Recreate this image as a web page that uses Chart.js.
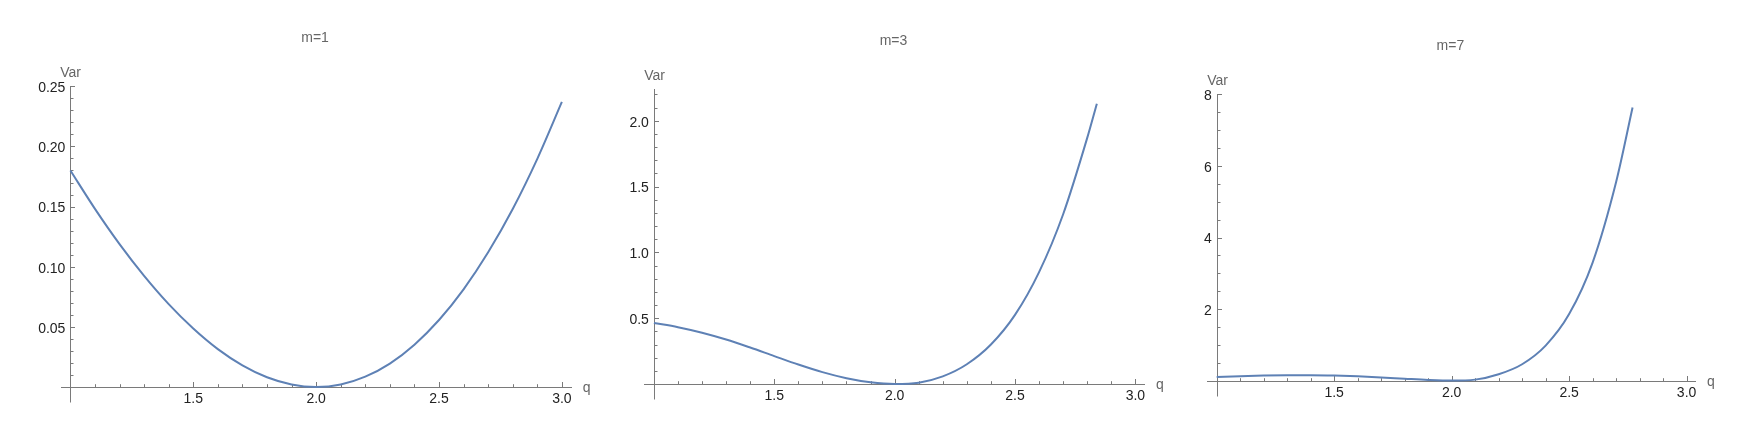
<!DOCTYPE html>
<html>
<head>
<meta charset="utf-8">
<script src="https://cdn.jsdelivr.net/npm/chart.js@4.4.0/dist/chart.umd.min.js"></script>
<style>
body{margin:0;background:#fff;width:1752px;height:435px;position:relative;overflow:hidden}
canvas{position:absolute;top:0}
</style>
</head>
<body>
<canvas id="c1" width="600" height="435" style="left:0px"></canvas>
<canvas id="c2" width="600" height="435" style="left:584px"></canvas>
<canvas id="c3" width="584" height="435" style="left:1168px"></canvas>
<script>
// values
var qM1=[1.0,1.1,1.2,1.3,1.4,1.5,1.6,1.7,1.8,1.9,2.0,2.1,2.2,2.3,2.4,2.5,2.6,2.7,2.8,2.9,3.0];
var varM1=[0.1800,0.1481,0.1188,0.0924,0.0689,0.0486,0.0315,0.0180,0.0081,0.0021,0.0000,0.0021,0.0086,0.0195,0.0352,0.0557,0.0812,0.1120,0.1480,0.1897,0.2370];

var qM3=[1.0,1.1,1.2,1.3,1.4,1.5,1.6,1.7,1.8,1.9,2.0,2.1,2.2,2.3,2.4,2.5,2.6,2.7,2.8,2.84];
var varM3=[0.464,0.432,0.390,0.338,0.277,0.212,0.148,0.090,0.044,0.013,0.000,0.010,0.058,0.150,0.300,0.525,0.850,1.290,1.870,2.130];

var qM7=[1.0,1.1,1.2,1.3,1.4,1.5,1.6,1.7,1.8,1.9,2.0,2.1,2.2,2.3,2.4,2.5,2.6,2.7,2.77];
var varM7=[0.100,0.125,0.142,0.151,0.152,0.143,0.122,0.092,0.056,0.022,0.004,0.030,0.180,0.460,0.980,1.860,3.300,5.550,7.630];

var titles=['m=1','m=3','m=7'];
var xTicks=[1.5,2.0,2.5,3.0];
var yTicksM1=[0.05,0.10,0.15,0.20,0.25];
var yTicksM3=[0.5,1.0,1.5,2.0];
var yTicksM7=[2,4,6,8];

var FONT='"Liberation Sans", Arial, sans-serif';

// mathematica-ish axes: lines through (1,0), inward ticks, labels
var mmaAxes={
  id:'mmaAxes',
  beforeDatasetsDraw:function(chart,args,o){
    var ctx=chart.ctx,xs=chart.scales.x,ys=chart.scales.y,a=chart.chartArea;
    var x1=Math.round(xs.getPixelForValue(1))+0.5;
    var y0=Math.round(ys.getPixelForValue(0))+0.5;
    ctx.save();
    ctx.strokeStyle='#7a7a7a';
    ctx.lineWidth=1;
    ctx.beginPath();
    ctx.moveTo(Math.round(xs.getPixelForValue(0.96)),y0);
    ctx.lineTo(Math.round(a.right),y0);
    ctx.moveTo(x1,Math.round(a.top));
    ctx.lineTo(x1,y0+15);
    for(var i=1;i<=20;i++){
      var px=Math.round(xs.getPixelForValue(1+i/10))+0.5;
      var len=(i%5==0)?5.5:3.3;
      ctx.moveTo(px,y0);
      ctx.lineTo(px,y0-len);
    }
    var n=Math.round(o.yMax/o.minor+1e-6);
    for(var j=1;j<=n;j++){
      var py=Math.round(ys.getPixelForValue(j*o.minor))+0.5;
      var l=(j%o.majorEvery==0)?4.5:3;
      ctx.moveTo(x1,py);
      ctx.lineTo(x1+l,py);
    }
    ctx.stroke();
    ctx.fillStyle='#666';
    ctx.font='14px '+FONT;
    ctx.textAlign='center';
    ctx.textBaseline='middle';
    ctx.fillText(o.title,(a.left+a.right)/2-6,a.top-48);
    ctx.fillText('Var',x1,a.top-13);
    ctx.textAlign='left';
    ctx.fillText('q',a.right+11,y0+1);
    ctx.restore();
  }
};

function makeChart(id,q,vals,yt,p){
  var pts=[];
  for(var i=0;i<q.length;i++) pts.push({x:q[i],y:vals[i]});
  var cv=document.getElementById(id);
  return new Chart(cv.getContext('2d'),{
    type:'scatter',
    data:{datasets:[{
      data:pts,
      showLine:true,
      borderColor:'#5e81b5',
      borderWidth:2,
      pointRadius:0,
      cubicInterpolationMode:'monotone',
      clip:false,
      fill:false
    }]},
    options:{
      responsive:false,
      animation:false,
      devicePixelRatio:1,
      layout:{padding:{left:p.left-60,right:cv.width-p.right,top:p.top,bottom:435-p.bottom-30}},
      plugins:{
        legend:{display:false},
        tooltip:{enabled:false},
        mmaAxes:{title:p.title,yMax:p.yMax,minor:p.minor,majorEvery:p.majorEvery}
      },
      scales:{
        x:{
          type:'linear',min:1,max:3.04,
          grid:{display:false,drawTicks:false},
          border:{display:false},
          afterBuildTicks:function(s){s.ticks=xTicks.map(function(v){return {value:v};});},
          afterFit:function(s){s.height=30;},
          ticks:{padding:4,color:'#222',autoSkip:false,maxRotation:0,font:{family:FONT,size:14},
            callback:function(v){return Number(v).toFixed(1);}}
        },
        y:{
          type:'linear',min:0,max:p.yMax,
          grid:{display:false,drawTicks:false},
          border:{display:false},
          afterBuildTicks:function(s){s.ticks=yt.map(function(v){return {value:v};});},
          afterFit:function(s){s.width=60;},
          ticks:{padding:5,labelOffset:2,color:'#222',autoSkip:false,font:{family:FONT,size:14},
            callback:function(v){return Number(v).toFixed(p.digits);}}
        }
      }
    },
    plugins:[mmaAxes]
  });
}

makeChart('c1',qM1,varM1,yTicksM1,{title:titles[0],left:70.4,right:571.7,top:86.3,bottom:387,yMax:0.25,minor:0.01,majorEvery:5,digits:2});
makeChart('c2',qM3,varM3,yTicksM3,{title:titles[1],left:69.9,right:561,top:89.2,bottom:384,yMax:2.24,minor:0.1,majorEvery:5,digits:1});
makeChart('c3',qM7,varM7,yTicksM7,{title:titles[2],left:48.7,right:528,top:94.3,bottom:380.7,yMax:8,minor:0.5,majorEvery:4,digits:0});
</script>
</body>
</html>
